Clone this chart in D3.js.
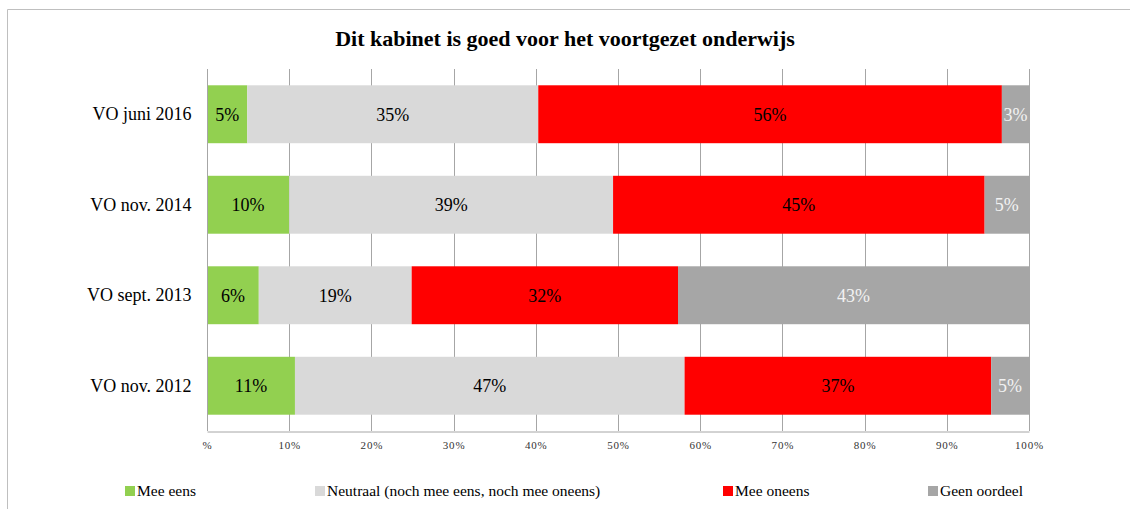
<!DOCTYPE html>
<html>
<head>
<meta charset="utf-8">
<script src="https://cdn.jsdelivr.net/npm/d3@7"></script>
<style>
  body { margin: 0; background: #fff; }
  svg { font-family: "Liberation Serif", "DejaVu Serif", serif; }
</style>
</head>
<body>
<div id="chart"></div>
<script>
// data
var categories = ["VO juni 2016", "VO nov. 2014", "VO sept. 2013", "VO nov. 2012"];
var seriesNames = ["Mee eens", "Neutraal (noch mee eens, noch mee oneens)", "Mee oneens", "Geen oordeel"];
var meeEens   = [4.9, 10.0, 6.3, 10.7];
var neutraal  = [35.4, 39.4, 18.6, 47.4];
var meeOneens = [56.4, 45.2, 32.4, 37.3];
var geenOordeel = [3.3, 5.4, 42.7, 4.6];
var tickValues = [0, 10, 20, 30, 40, 50, 60, 70, 80, 90, 100];

var colors = ["#92d050", "#d9d9d9", "#ff0000", "#a6a6a6"];
var labelColors = ["#000", "#000", "#000", "#f2f2f2"];

var width = 1130, height = 509;
var margin = {top: 69, right: 101, bottom: 78, left: 207};

var svg = d3.select("#chart").append("svg")
    .attr("width", width)
    .attr("height", height);

// outer frame
svg.append("path")
    .attr("d", "M7.5," + height + "V9.5H" + width)
    .attr("fill", "none")
    .attr("stroke", "#bfbfbf");

svg.append("text")
    .attr("x", 565)
    .attr("y", 46)
    .attr("text-anchor", "middle")
    .style("font-size", "22px")
    .style("font-weight", "bold")
    .text("Dit kabinet is goed voor het voortgezet onderwijs");

var x = d3.scaleLinear().domain([0, 100]).range([margin.left, width - margin.right]);
var y = d3.scaleBand().domain(categories).range([margin.top, height - margin.bottom]).paddingInner(0.36).paddingOuter(0.18);

var table = categories.map(function(c, i) {
  return {cat: c, vals: [meeEens[i], neutraal[i], meeOneens[i], geenOordeel[i]]};
});

// gridlines
svg.append("g")
  .selectAll("line")
  .data(tickValues.slice(1))
  .enter().append("line")
    .attr("x1", function(d) { return Math.round(x(d)) + 0.5; })
    .attr("x2", function(d) { return Math.round(x(d)) + 0.5; })
    .attr("y1", margin.top)
    .attr("y2", height - margin.bottom)
    .attr("stroke", "#a6a6a6");

// bars
var rows = svg.append("g").selectAll("g")
  .data(table)
  .enter().append("g");

rows.each(function(d) {
  var g = d3.select(this);
  var start = 0;
  d.vals.forEach(function(v, j) {
    var x0 = x(start), x1 = x(start + v);
    g.append("rect")
      .attr("x", x0)
      .attr("y", y(d.cat))
      .attr("width", x1 - x0)
      .attr("height", y.bandwidth())
      .attr("fill", colors[j]);
    g.append("text")
      .attr("x", (x0 + x1) / 2)
      .attr("y", y(d.cat) + y.bandwidth() / 2)
      .attr("dy", "0.35em")
      .attr("text-anchor", "middle")
      .attr("fill", labelColors[j])
      .style("font-size", "18px")
      .text(Math.round(v) + "%");
    start += v;
  });
});

// category axis
var yAxis = svg.append("g")
    .attr("transform", "translate(" + (margin.left + 0.5) + ",0)")
    .call(d3.axisLeft(y).tickSize(0).tickPadding(16));
yAxis.select(".domain").attr("stroke", "#a6a6a6").attr("d", "M0," + margin.top + "V" + (height - margin.bottom));
yAxis.selectAll("text").style("font-size", "18px").style("font-family", "Liberation Serif, serif").attr("fill", "#000");

// value axis
var xAxis = svg.append("g")
    .attr("transform", "translate(0," + (height - margin.bottom + 0.5) + ")")
    .call(d3.axisBottom(x).tickValues(tickValues).tickSize(0).tickPadding(10)
      .tickFormat(function(d) { return d === 0 ? "%" : d + "%"; }));
xAxis.select(".domain").attr("stroke", "#a6a6a6");
xAxis.selectAll("text").style("font-size", "11px").style("letter-spacing", "0.8px")
    .style("font-family", "Liberation Serif, serif").attr("fill", "#333");

// legend
var legendX = [125, 315, 723, 928];
var legend = svg.append("g").selectAll("g")
  .data(seriesNames)
  .enter().append("g")
    .attr("transform", function(d, i) { return "translate(" + legendX[i] + ",486)"; });
legend.append("rect")
    .attr("width", 10)
    .attr("height", 10)
    .attr("fill", function(d, i) { return colors[i]; });
legend.append("text")
    .attr("x", 12)
    .attr("y", 10)
    .style("font-size", "15.5px")
    .text(function(d) { return d; });
</script>
</body>
</html>
